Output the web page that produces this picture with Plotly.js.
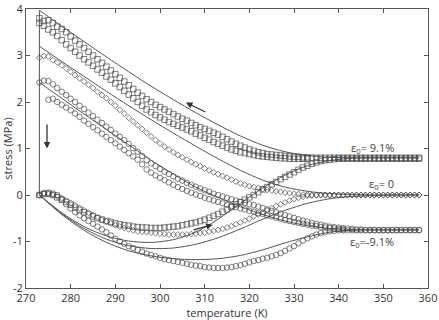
<!DOCTYPE html>
<html><head><meta charset="utf-8">
<script src="https://cdn.plot.ly/plotly-3.0.1.min.js"></script>
<style>body{margin:0;background:#fff}#c{width:439px;height:320px}</style>
</head><body><div id="c"></div>
<script>
// Temperature of measured points (K)
const T = [273,274,275,276,277,278,279,280,281,282,283,284,285,286,287,288,289,290,291,292,293,294,295,296,297,298,299,300,301,302,303,304,305,306,307,308,309,310,311,312,313,314,315,316,317,318,319,320,321,322,323,324,325,326,327,328,329,330,331,332,333,334,335,336,337,338,339,340,341,342,343,344,345,346,347,348,349,350,351,352,353,354,355,356,357,358];
// eps0 = 9.1 % (squares)
const sqCoolA = [3.8,3.74,3.76,3.7,3.62,3.57,3.5,3.41,3.32,3.24,3.16,3.08,3.0,2.92,2.84,2.76,2.68,2.6,2.52,2.44,2.36,2.28,2.2,2.13,2.06,2.0,1.94,1.89,1.84,1.79,1.74,1.69,1.64,1.6,1.55,1.5,1.46,1.42,1.38,1.34,1.3,1.25,1.2,1.15,1.1,1.06,1.02,0.98,0.95,0.92,0.9,0.88,0.87,0.86,0.85,0.84,0.83,0.82,0.82,0.81,0.81,0.8,0.8,0.8,0.8,0.8,0.8,0.8,0.8,0.8,0.8,0.8,0.8,0.8,0.8,0.8,0.8,0.8,0.8,0.8,0.8,0.8,0.8,0.8,0.8,0.8];
const sqCoolB = [3.7,3.64,3.56,3.5,3.42,3.33,3.24,3.16,3.08,3.0,2.92,2.85,2.78,2.7,2.63,2.55,2.48,2.4,2.32,2.24,2.16,2.08,2.0,1.92,1.84,1.78,1.72,1.67,1.62,1.57,1.53,1.49,1.45,1.41,1.37,1.32,1.28,1.23,1.19,1.14,1.1,1.06,1.02,0.98,0.95,0.92,0.9,0.88,0.86,0.84,0.83,0.82,0.81,0.8,0.79,0.79,0.78,0.78,0.78,0.78,0.78,null,null,null,null,null,null,null,null,null,null,null,null,null,null,null,null,null,null,null,null,null,null,null,null,null];
const sqHeat = [0,0.02,0.03,0.0,-0.05,-0.1,-0.15,-0.21,-0.27,-0.32,-0.37,-0.42,-0.46,-0.5,-0.53,-0.56,-0.58,-0.61,-0.63,-0.65,-0.66,-0.68,-0.69,-0.7,-0.7,-0.71,-0.71,-0.71,-0.7,-0.69,-0.68,-0.67,-0.65,-0.63,-0.61,-0.59,-0.56,-0.53,-0.49,-0.45,-0.41,-0.36,-0.31,-0.26,-0.2,-0.15,-0.1,-0.05,0.0,0.06,0.12,0.17,0.23,0.28,0.34,0.39,0.44,0.49,0.54,0.59,0.63,0.67,0.7,0.73,0.75,0.76,0.77,0.78,0.78,0.78,0.78,0.78,0.78,0.78,0.78,0.78,0.78,0.78,0.78,0.78,0.78,0.78,0.78,0.78,0.78,0.78];
// eps0 = 0 (diamonds)
const dmCool = [2.95,2.99,2.98,2.9,2.85,2.79,2.72,2.65,2.58,2.51,2.44,2.37,2.3,2.22,2.15,2.08,2.0,1.92,1.83,1.75,1.66,1.58,1.5,1.42,1.34,1.26,1.18,1.11,1.04,0.98,0.92,0.86,0.81,0.76,0.71,0.66,0.62,0.57,0.53,0.49,0.45,0.41,0.37,0.33,0.29,0.25,0.22,0.19,0.17,0.15,0.13,0.11,0.1,0.08,0.07,0.05,0.04,0.03,0.02,0.01,0.01,0.0,0,0,0,0,0,0,0,0,0,0,0,0,0,0,0,0,0,0,0,0,0,0,0,0];
const dmHeat = [0,0.03,0.02,0.0,-0.03,-0.07,-0.12,-0.17,-0.22,-0.28,-0.33,-0.38,-0.43,-0.48,-0.53,-0.57,-0.61,-0.65,-0.68,-0.71,-0.74,-0.76,-0.78,-0.79,-0.8,-0.81,-0.82,-0.83,-0.84,-0.85,-0.85,-0.85,-0.85,-0.85,-0.84,-0.83,-0.82,-0.81,-0.79,-0.77,-0.75,-0.73,-0.7,-0.67,-0.63,-0.59,-0.55,-0.51,-0.46,-0.42,-0.37,-0.33,-0.28,-0.24,-0.2,-0.16,-0.12,-0.09,-0.06,-0.04,-0.02,-0.01,0,0,0,0,0,0,0,0,0,0,0,0,0,0,0,0,0,0,0,0,0,0,0,0];
// eps0 = -9.1 % (circles)
const ciCoolA = [2.42,2.46,2.45,2.38,2.3,2.22,2.15,2.07,2.0,1.92,1.85,1.77,1.7,1.62,1.55,1.47,1.4,1.32,1.25,1.18,1.1,1.01,0.93,0.84,0.75,0.68,0.62,0.56,0.5,0.45,0.4,0.35,0.31,0.26,0.22,0.18,0.14,0.1,0.07,0.03,0.0,-0.03,-0.06,-0.09,-0.12,-0.15,-0.17,-0.2,-0.22,-0.25,-0.28,-0.31,-0.34,-0.37,-0.4,-0.43,-0.46,-0.49,-0.52,-0.55,-0.57,-0.6,-0.62,-0.64,-0.66,-0.68,-0.69,-0.7,-0.71,-0.72,-0.73,-0.74,-0.74,-0.75,-0.75,-0.75,-0.75,-0.75,-0.75,-0.75,-0.75,-0.75,-0.75,-0.75,-0.75,-0.75];
const ciCoolB = [null,null,2.05,2.07,2.0,1.94,1.88,1.82,1.75,1.68,1.6,1.53,1.46,1.39,1.32,1.25,1.18,1.11,1.04,0.97,0.9,0.83,0.76,0.66,0.55,0.48,0.42,0.37,0.32,0.27,0.22,0.17,0.13,0.09,0.05,0.01,-0.02,-0.06,-0.09,-0.12,-0.15,-0.18,-0.21,-0.24,-0.26,-0.29,-0.31,-0.34,-0.36,-0.39,-0.41,-0.44,-0.46,-0.49,-0.51,-0.54,-0.56,-0.58,-0.6,-0.62,-0.64,-0.66,-0.67,-0.69,-0.7,-0.71,-0.72,-0.73,-0.74,null,null,null,null,null,null,null,null,null,null,null,null,null,null,null,null,null];
const ciHeat = [0,0.04,0.05,0.03,0.0,-0.1,-0.2,-0.29,-0.37,-0.44,-0.5,-0.56,-0.62,-0.68,-0.74,-0.8,-0.87,-0.94,-1.0,-1.05,-1.1,-1.14,-1.18,-1.22,-1.26,-1.29,-1.32,-1.35,-1.38,-1.4,-1.42,-1.44,-1.46,-1.48,-1.5,-1.52,-1.53,-1.55,-1.56,-1.57,-1.57,-1.57,-1.56,-1.55,-1.53,-1.51,-1.48,-1.45,-1.42,-1.4,-1.37,-1.35,-1.32,-1.29,-1.25,-1.2,-1.15,-1.1,-1.04,-0.98,-0.93,-0.89,-0.85,-0.82,-0.8,-0.78,-0.77,-0.76,-0.76,-0.76,-0.76,-0.76,-0.76,-0.76,-0.76,-0.76,-0.76,-0.76,-0.76,-0.76,-0.76,-0.76,-0.76,-0.76,-0.76,-0.76];
// model curves
const LT = [273,278,283,288,293,298,303,308,313,318,323,328,333,338,343,348,353,358];
const L1 = [3.97,3.63,3.3,2.97,2.65,2.34,2.05,1.77,1.51,1.27,1.07,0.93,0.85,0.81,0.8,0.8,0.8,0.8];
const L2 = [3.2,2.87,2.55,2.23,1.92,1.62,1.33,1.05,0.78,0.53,0.32,0.17,0.08,0.03,0.01,0,0,0];
const L3 = [2.42,2.08,1.74,1.41,1.08,0.75,0.45,0.17,-0.05,-0.25,-0.42,-0.56,-0.66,-0.72,-0.74,-0.75,-0.75,-0.75];
const H1 = [0,-0.38,-0.68,-0.88,-0.99,-1.02,-0.96,-0.8,-0.52,-0.18,0.15,0.43,0.63,0.74,0.79,0.8,0.8,0.8];
const H2 = [0,-0.4,-0.72,-0.95,-1.09,-1.15,-1.14,-1.06,-0.92,-0.73,-0.52,-0.33,-0.18,-0.08,-0.03,-0.01,0,0];
const H3 = [0,-0.42,-0.76,-1.02,-1.2,-1.31,-1.37,-1.39,-1.37,-1.3,-1.18,-1.03,-0.9,-0.8,-0.76,-0.75,-0.75,-0.75];
const stepT = [273,273];
const stepS = [0,3.97];
const labels = ['ε<sub>0</sub>= 9.1%','ε<sub>0</sub>= 0','ε<sub>0</sub>=-9.1%'];
const labelS = [1.02,0.23,-1.0];
const xTicks = [270,280,290,300,310,320,330,340,350,360];
const yTicks = [-2,-1,0,1,2,3,4];

const mc = '#474747', lc = '#555';
function pts(y, sym, size){
  return {x:T, y:y, type:'scatter', mode:'markers',
    marker:{symbol:sym, size:size, color:mc, line:{color:mc, width:0.7}}, hoverinfo:'skip'};
}
function ln(x,y){ return {x:x, y:y, type:'scatter', mode:'lines', line:{color:lc, width:1, shape:'spline', smoothing:0.8}, hoverinfo:'skip'}; }
const data = [
  ln(LT,L1), ln(LT,L2), ln(LT,L3), ln(LT,H1), ln(LT,H2), ln(LT,H3),
  {x:stepT, y:stepS, type:'scatter', mode:'lines', line:{color:lc,width:1}},
  pts(sqCoolA,'square-open',5.5), pts(sqCoolB,'square-open',5.5), pts(sqHeat,'square-open',5.5),
  pts(dmCool,'diamond-open',4.5), pts(dmHeat,'diamond-open',4.5),
  pts(ciCoolA,'circle-open',5.5), pts(ciCoolB,'circle-open',5.5), pts(ciHeat,'circle-open',5.5)
];
const ann = labels.map((t,i)=>({x:352.8, y:labelS[i], xref:'x', yref:'y', text:t, showarrow:false, xanchor:'right', yanchor:'middle', font:{family:'Open Sans, sans-serif', size:11, color:'#444'}}));
function arrow(x0,y0,x1,y1){ return {x:x1,y:y1,ax:x0,ay:y0,xref:'x',yref:'y',axref:'x',ayref:'y',text:'',showarrow:true,arrowhead:2,arrowsize:1,arrowwidth:1.3,arrowcolor:'#333'}; }
ann.push(arrow(274.7,1.55,274.7,1.0));
ann.push(arrow(310.5,1.77,305.8,1.99));
ann.push(arrow(307.2,-0.76,311.8,-0.64));
const axf = {family:'Open Sans, sans-serif', size:11, color:'#333'};
const layout = {
  width:439, height:320, margin:{l:26,r:11,t:9,b:32},
  paper_bgcolor:'#fff', plot_bgcolor:'#fff', showlegend:false,
  font:axf,
  xaxis:{range:[270,360], tickvals:xTicks, ticktext:xTicks.map(String), ticks:'inside', ticklen:4, tickcolor:'#555',
    showline:true, linecolor:'#555', linewidth:1, mirror:'allticks', showgrid:false, zeroline:false,
    tickfont:axf, title:{text:'temperature (K)', font:axf, standoff:4}},
  yaxis:{range:[-2,4], tickvals:yTicks, ticktext:yTicks.map(String), ticks:'inside', ticklen:4, tickcolor:'#555',
    showline:true, linecolor:'#555', linewidth:1, mirror:'allticks', showgrid:false, zeroline:false,
    tickfont:axf, title:{text:'stress (MPa)', font:axf, standoff:2}},
  annotations:ann
};
Plotly.newPlot('c', data, layout, {staticPlot:true, displayModeBar:false});
</script></body></html>
